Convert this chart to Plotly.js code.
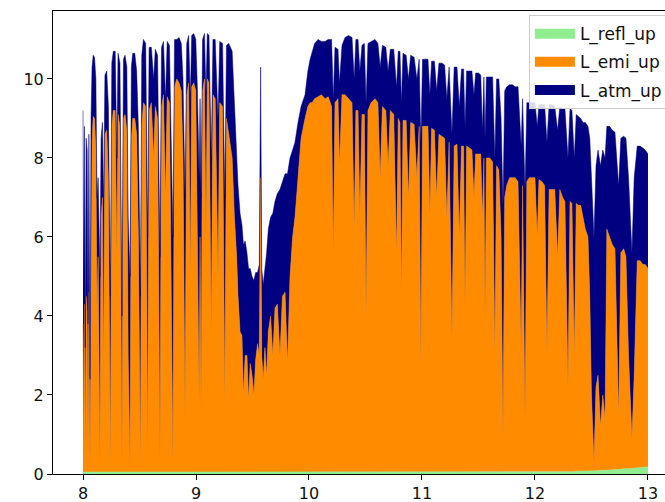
<!DOCTYPE html>
<html>
<head>
<meta charset="utf-8">
<script src="https://cdn.plot.ly/plotly-3.0.1.min.js"></script>
<style>
html, body { margin: 0; padding: 0; overflow: hidden; background: #fff; }
#chart { width: 680px; height: 502px; }
</style>
</head>
<body>
<div id="chart"></div>
<script>
const wavelength = [
8.000,8.006,8.013,8.020,8.028,8.037,8.044,8.052,8.062,8.071,
8.080,8.090,8.102,8.114,8.124,8.134,8.150,8.160,8.172,8.182,
8.194,8.210,8.225,8.242,8.255,8.268,8.285,8.300,8.310,8.327,
8.345,8.358,8.372,8.388,8.400,8.416,8.428,8.440,8.458,8.475,
8.490,8.508,8.520,8.535,8.555,8.572,8.585,8.605,8.625,8.640,
8.660,8.681,8.695,8.712,8.730,8.745,8.765,8.796,8.810,8.830,
8.850,8.870,8.885,8.903,8.918,8.935,8.950,8.962,8.980,8.998,
9.012,9.028,9.036,9.045,9.058,9.075,9.088,9.100,9.115,9.135,
9.150,9.170,9.195,9.210,9.235,9.255,9.270,9.290,9.320,9.340,
9.360,9.372,9.390,9.407,9.420,9.435,9.451,9.465,9.480,9.496,
9.512,9.528,9.545,9.560,9.572,9.582,9.595,9.610,9.625,9.640,
9.660,9.680,9.699,9.720,9.743,9.765,9.788,9.810,9.832,9.855,
9.876,9.903,9.930,9.965,9.990,10.010,10.027,10.050,10.080,10.110,
10.142,10.170,10.200,10.215,10.230,10.257,10.270,10.292,10.319,10.350,
10.381,10.400,10.415,10.434,10.450,10.469,10.490,10.505,10.522,10.550,
10.584,10.610,10.630,10.650,10.680,10.700,10.720,10.750,10.775,10.790,
10.805,10.818,10.832,10.860,10.880,10.900,10.930,10.955,10.975,10.990,
11.005,11.030,11.053,11.070,11.085,11.110,11.130,11.150,11.177,11.200,
11.220,11.240,11.265,11.285,11.310,11.330,11.350,11.368,11.381,11.395,
11.420,11.442,11.460,11.475,11.500,11.520,11.535,11.548,11.558,11.570,
11.600,11.625,11.645,11.660,11.680,11.700,11.717,11.732,11.750,11.775,
11.800,11.825,11.850,11.878,11.890,11.912,11.928,11.950,11.975,12.000,
12.020,12.035,12.062,12.085,12.106,12.125,12.150,12.175,12.200,12.220,
12.245,12.265,12.292,12.310,12.327,12.348,12.365,12.385,12.405,12.425,
12.445,12.469,12.485,12.500,12.522,12.540,12.558,12.580,12.600,12.620,
12.636,12.660,12.685,12.708,12.725,12.740,12.760,12.785,12.805,12.828,
12.858,12.878,12.905,12.930,12.955,12.975,13.000
];

const L_refl_up = [
0.05,0.05,0.05,0.05,0.05,0.05,0.05,0.05,0.05,0.05,
0.05,0.05,0.05,0.05,0.05,0.05,0.05,0.05,0.05,0.05,
0.05,0.05,0.05,0.05,0.05,0.05,0.05,0.05,0.05,0.05,
0.05,0.05,0.05,0.05,0.05,0.05,0.05,0.05,0.05,0.05,
0.05,0.05,0.05,0.05,0.05,0.05,0.05,0.05,0.05,0.05,
0.05,0.05,0.05,0.05,0.05,0.05,0.05,0.05,0.05,0.05,
0.05,0.05,0.05,0.05,0.05,0.05,0.05,0.05,0.05,0.05,
0.05,0.05,0.05,0.05,0.05,0.05,0.05,0.05,0.05,0.05,
0.05,0.05,0.05,0.05,0.05,0.05,0.05,0.05,0.05,0.05,
0.05,0.05,0.05,0.05,0.05,0.05,0.05,0.05,0.05,0.05,
0.05,0.05,0.05,0.05,0.05,0.05,0.05,0.05,0.05,0.05,
0.05,0.05,0.05,0.05,0.05,0.05,0.05,0.05,0.05,0.05,
0.05,0.05,0.05,0.05,0.05,0.05,0.05,0.05,0.05,0.05,
0.05,0.05,0.05,0.05,0.05,0.05,0.05,0.05,0.05,0.05,
0.05,0.05,0.05,0.05,0.05,0.05,0.05,0.05,0.05,0.05,
0.05,0.05,0.05,0.05,0.05,0.05,0.05,0.05,0.05,0.05,
0.05,0.05,0.05,0.05,0.05,0.05,0.05,0.05,0.05,0.05,
0.05,0.05,0.05,0.05,0.05,0.05,0.05,0.05,0.05,0.05,
0.05,0.05,0.05,0.05,0.05,0.05,0.05,0.05,0.05,0.05,
0.05,0.05,0.05,0.05,0.05,0.05,0.05,0.05,0.05,0.05,
0.05,0.05,0.05,0.05,0.05,0.05,0.05,0.05,0.05,0.05,
0.05,0.05,0.05,0.05,0.05,0.05,0.05,0.05,0.05,0.05,
0.05,0.05,0.05,0.05,0.05,0.05,0.05,0.05,0.05,0.05,
0.05,0.05,0.06,0.06,0.06,0.06,0.07,0.07,0.07,0.07,
0.08,0.08,0.08,0.08,0.08,0.08,0.09,0.09,0.09,0.10,
0.10,0.10,0.11,0.11,0.12,0.12,0.12,0.13,0.13,0.14,
0.14,0.15,0.15,0.16,0.17,0.17,0.18
];

const L_emi_up = [
3.75,0.35,4.25,0.15,4.45,4.05,0.25,4.55,0.15,5.55,
8.35,9.00,8.95,8.15,3.95,5.45,0.15,6.45,6.95,2.45,
8.55,8.65,7.45,0.15,8.75,9.15,9.15,5.45,9.05,8.75,
0.15,8.95,9.05,8.65,2.95,0.15,8.45,8.95,8.95,8.55,
5.95,0.15,8.75,9.35,9.25,0.45,9.15,9.35,7.95,9.25,
8.95,0.25,9.25,9.55,6.95,9.50,9.35,0.25,9.75,9.95,
9.85,9.65,7.95,1.35,9.55,9.85,4.95,9.75,9.85,9.65,
6.45,1.75,5.95,1.45,9.65,9.95,5.95,9.95,9.85,3.45,
9.55,9.45,4.95,9.35,9.25,1.75,8.95,8.55,7.95,6.45,
5.45,4.45,3.55,3.45,1.95,2.95,2.95,1.85,2.75,2.45,
1.95,2.85,3.25,2.95,7.45,2.95,2.35,3.15,2.45,3.55,
3.95,2.95,4.15,4.25,2.95,4.45,4.55,2.75,4.95,5.95,
6.45,7.45,8.45,8.95,9.25,9.35,9.35,9.45,9.50,9.55,
9.45,9.50,9.25,5.55,9.35,9.45,7.75,9.55,9.55,9.45,
9.35,6.15,9.15,9.15,6.45,9.05,9.05,3.95,9.15,9.35,
9.45,9.35,7.45,9.25,9.15,7.75,9.15,9.05,5.55,8.95,
8.85,4.45,8.90,8.90,6.95,8.85,8.80,7.45,8.75,2.75,
8.75,8.75,8.75,6.45,8.70,8.65,6.95,8.55,8.50,8.45,
6.45,8.35,3.35,8.25,8.30,5.95,8.25,8.25,4.15,8.25,
8.20,8.15,6.95,8.05,8.05,8.05,6.45,7.95,3.85,7.95,
7.95,7.85,3.05,7.75,7.65,5.95,0.90,6.95,7.25,7.45,
7.45,7.45,7.35,3.05,7.25,1.35,7.35,7.45,7.45,7.45,
5.95,7.40,7.35,7.25,3.05,7.15,7.15,7.15,5.45,7.15,
6.95,6.85,2.14,6.84,6.79,2.94,6.78,6.73,6.73,6.43,
6.12,5.92,4.42,1.92,0.22,2.12,2.41,1.11,1.91,1.30,
6.10,5.90,5.69,5.59,2.88,1.38,5.48,5.57,5.37,2.86,
0.76,2.35,5.25,5.24,5.13,5.13,5.02
];

const L_atm_up = [
5.40,4.10,4.50,3.00,4.00,4.10,3.50,4.00,2.20,3.40,
1.90,1.55,1.55,1.80,3.00,2.00,4.80,2.00,1.90,4.30,
1.50,1.50,1.80,4.30,1.60,1.50,1.50,2.50,1.55,1.60,
3.80,1.50,1.50,1.60,3.50,4.80,1.80,1.65,1.65,1.60,
2.80,4.30,1.80,1.60,1.60,5.50,1.60,1.40,2.00,1.45,
1.60,5.20,1.50,1.35,2.50,1.40,1.45,5.70,1.20,1.00,
1.15,1.20,2.00,5.60,1.30,1.20,4.50,1.30,1.25,1.30,
3.30,5.70,3.50,5.50,1.30,1.15,3.60,1.15,1.20,4.50,
1.40,1.50,4.00,1.55,1.60,5.20,1.85,2.30,2.70,3.00,
2.50,2.80,3.00,2.80,3.80,2.90,2.60,3.30,2.40,2.50,
2.90,2.20,1.80,2.30,2.80,2.20,2.40,2.00,3.10,2.60,
2.50,3.60,2.70,2.80,4.20,2.90,3.00,4.80,3.00,2.20,
1.90,1.40,0.80,0.60,0.90,1.10,1.25,1.40,1.45,1.35,
1.45,1.45,1.70,3.90,1.40,1.25,2.10,1.25,1.45,1.60,
1.65,3.80,1.80,1.80,3.70,1.75,1.80,5.40,1.70,1.55,
1.50,1.50,2.80,1.55,1.60,2.40,1.55,1.65,4.20,1.70,
1.80,4.90,1.70,1.65,3.00,1.70,1.70,2.50,1.70,5.60,
1.70,1.70,1.70,3.10,1.70,1.75,2.70,1.80,1.85,1.85,
3.00,1.90,5.20,2.00,1.95,3.30,1.95,1.95,4.60,1.90,
1.95,2.00,2.60,2.05,2.05,2.00,2.20,2.05,4.60,2.05,
2.05,2.15,4.90,2.20,2.30,3.00,5.85,2.70,2.50,2.35,
2.35,2.30,2.40,5.20,2.20,5.80,2.00,1.90,1.90,1.90,
2.80,1.90,1.95,2.05,5.30,2.15,2.15,2.10,3.20,2.10,
2.25,2.35,5.80,2.35,2.35,5.00,2.25,2.25,2.20,2.40,
2.70,2.80,4.00,5.50,5.70,5.60,5.70,6.60,6.20,6.60,
2.60,2.80,2.90,2.95,4.80,5.80,2.90,2.85,3.00,4.50,
4.70,5.00,2.90,2.90,2.95,2.90,2.90
];

const seriesNames = ['L_refl_up', 'L_emi_up', 'L_atm_up'];
const seriesColors = ['#90EE90', '#FF8C00', '#000080'];
const seriesValues = [L_refl_up, L_emi_up, L_atm_up];

// Stacked areas (legend entries are drawn by the patch-only entries below)
const traces = seriesValues.map((vals, i) => ({
  x: wavelength,
  y: vals,
  name: seriesNames[i],
  type: 'scatter',
  mode: 'lines',
  stackgroup: 'one',
  showlegend: false,
  line: { width: 0.5, color: seriesColors[i] },
  fillcolor: seriesColors[i],
  hoverinfo: 'skip'
}));

// Legend patches (no data, only legend symbols)
seriesNames.forEach((nm, i) => {
  traces.push({
    x: [null], y: [null],
    name: nm,
    type: 'scatter',
    mode: 'lines',
    legendgroup: 'g' + i,
    line: { width: 11, color: seriesColors[i] },
    hoverinfo: 'skip'
  });
});

const layout = {
  width: 680,
  height: 502,
  margin: { l: 53, r: 4, t: 11, b: 28, pad: 0 },
  paper_bgcolor: '#ffffff',
  plot_bgcolor: '#ffffff',
  font: { family: 'DejaVu Sans, sans-serif', size: 16, color: '#111' },
  showlegend: true,
  legend: {
    x: 0.987, xanchor: 'right',
    y: 0.991, yanchor: 'top',
    bgcolor: 'rgba(255,255,255,0.85)',
    bordercolor: '#cccccc',
    borderwidth: 1,
    font: { family: 'DejaVu Sans, sans-serif', size: 17, color: '#111' },
    traceorder: 'grouped',
    tracegroupgap: 3,
    itemwidth: 40
  },
  xaxis: {
    range: [7.7345, 13.248],
    tickvals: [8, 9, 10, 11, 12, 13],
    ticktext: ['8', '9', '10', '11', '12', '13'],
    ticks: 'outside', ticklen: 5, tickwidth: 1, tickcolor: '#000',
    showline: true, linecolor: '#000', linewidth: 1, mirror: true,
    showgrid: false, zeroline: false,
    tickfont: { size: 16, color: '#111' }
  },
  yaxis: {
    range: [0, 11.72],
    tickvals: [0, 2, 4, 6, 8, 10],
    ticktext: ['0', '2', '4', '6', '8', '10'],
    ticks: 'outside', ticklen: 5, tickwidth: 1, tickcolor: '#000',
    showline: true, linecolor: '#000', linewidth: 1, mirror: true,
    showgrid: false, zeroline: false,
    tickfont: { size: 16, color: '#111' }
  }
};

Plotly.newPlot('chart', traces, layout, { staticPlot: true, displayModeBar: false });
</script>
</body>
</html>
